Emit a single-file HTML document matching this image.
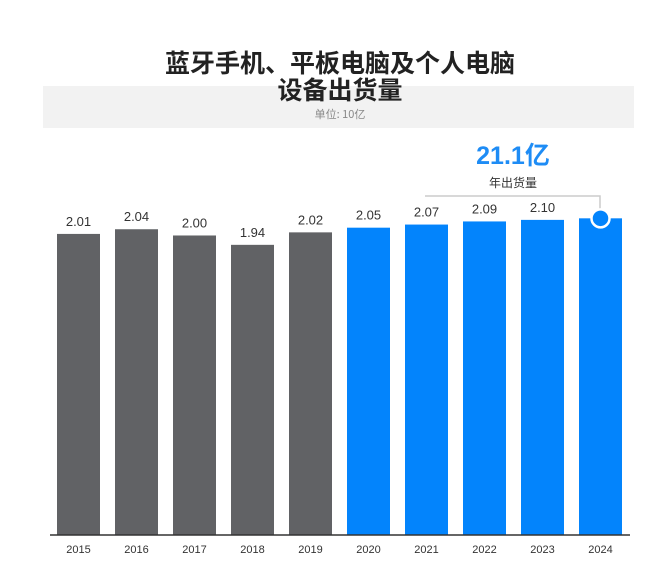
<!DOCTYPE html>
<html><head><meta charset="utf-8">
<style>
body{margin:0;background:#fff;width:660px;height:570px;overflow:hidden;font-family:"Liberation Sans","Noto Sans CJK SC",sans-serif;}
</style></head>
<body>
<svg width="660" height="570" style="position:absolute;left:0;top:0">
<rect x="43" y="86" width="591" height="42" fill="#f2f2f2"/>
<text x="340" y="72" text-anchor="middle" font-size="25" font-weight="bold" fill="#222" font-family="Noto Sans CJK SC,sans-serif">蓝牙手机、平板电脑及个人电脑</text>
<text x="340" y="99" text-anchor="middle" font-size="25" font-weight="bold" fill="#222" font-family="Noto Sans CJK SC,sans-serif">设备出货量</text>
<text x="340" y="118" text-anchor="middle" font-size="11" fill="#888" font-family="Noto Sans CJK SC,sans-serif">单位: 10亿</text>
<text x="513" y="164" text-anchor="middle" font-size="25" font-weight="bold" fill="#1e8cf5" font-family="Liberation Sans,Noto Sans CJK SC,sans-serif">21.1亿</text>
<text x="513" y="187" text-anchor="middle" font-size="12" fill="#333" font-family="Noto Sans CJK SC,sans-serif">年出货量</text>
<polyline points="425,196 600,196 600,211" fill="none" stroke="#ccc" stroke-width="1.5"/>
<g id="bars"></g>
<line x1="50" y1="535" x2="630" y2="535" stroke="#333" stroke-width="1.5"/>
</svg>
<script>
const years=["2015","2016","2017","2018","2019","2020","2021","2022","2023","2024"];
const values=[2.01,2.04,2.00,1.94,2.02,2.05,2.07,2.09,2.10,2.11];
const labels=["2.01","2.04","2.00","1.94","2.02","2.05","2.07","2.09","2.10",""];
const NS="http://www.w3.org/2000/svg";
const g=document.getElementById("bars");
const xPos=i=>57+i*58;
const yPos=v=>535-(v-0.08)*156;
function mk(t,a){const e=document.createElementNS(NS,t);for(const k in a)e.setAttribute(k,a[k]);g.appendChild(e);return e;}
years.forEach((yr,i)=>{
  const y=yPos(values[i]);
  const r=mk("rect",{x:xPos(i),y:y,width:43,height:535-y,fill:i<5?"#616265":"#0384fc"});
  
  
  if(labels[i]){
    const t=mk("text",{x:xPos(i)+21.5,y:y-8,"text-anchor":"middle","font-size":"13",fill:"#333"});
    t.textContent=labels[i];
    
    
  }
  const xt=mk("text",{x:xPos(i)+21.5,y:553,"text-anchor":"middle","font-size":"11",fill:"#333"});
  xt.textContent=yr;
  
  
});
const last=values.length-1;
const c=mk("circle",{cx:xPos(last)+21.5,cy:yPos(values[last]),r:9,fill:"#0384fc",stroke:"#fff","stroke-width":"2.5"});


</script>
</body></html>
